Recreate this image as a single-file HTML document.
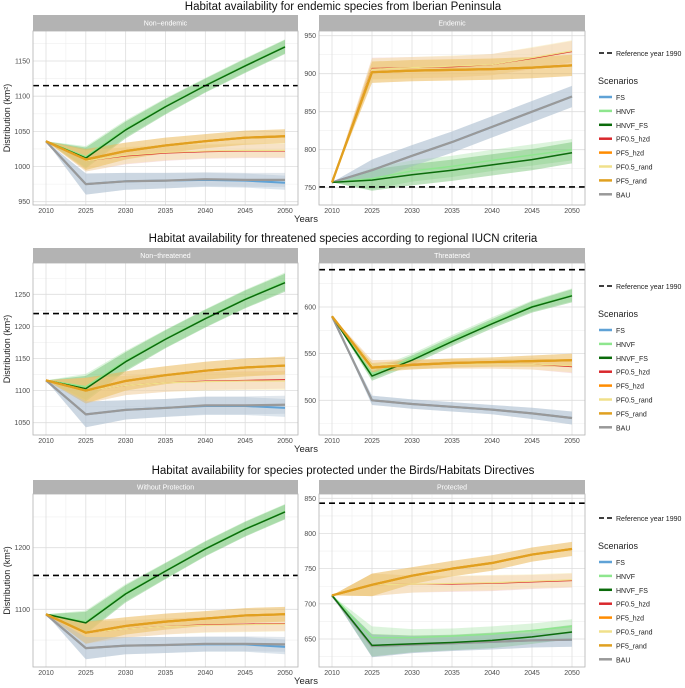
<!DOCTYPE html>
<html><head><meta charset="utf-8">
<style>
html,body{margin:0;padding:0;background:#fff;}
svg{display:block;font-family:"Liberation Sans",sans-serif;}
</style></head>
<body>
<svg id="chart" width="685" height="688" viewBox="0 0 685 688" xmlns="http://www.w3.org/2000/svg"></svg>
<script>
const categories = ["2010","2025","2030","2035","2040","2045","2050"];
const seriesNames = ["FS","HNVF","HNVF_FS","PF0.5_hzd","PF5_hzd","PF0.5_rand","PF5_rand","BAU"];
const rowTitles = ["Habitat availability for endemic species from Iberian Peninsula","Habitat availability for threatened species according to regional IUCN criteria","Habitat availability for species protected under the Birds/Habitats Directives"];
const panelLabels = ["Non\u2212endemic","Endemic","Non\u2212threatened","Threatened","Without Protection","Protected"];
const refValues = [1115, 751, 1220, 640, 1155, 843];
const p1Ticks = [950,1000,1050,1100,1150];
const p2Ticks = [750,800,850,900,950];
const p3Ticks = [1050,1100,1150,1200,1250];
const p4Ticks = [500,550,600];
const p5Ticks = [1100,1200];
const p6Ticks = [650,700,750,800,850];
// panel 1 Non-endemic
const p1FS=[1036,975,979,980,981,980,977], p1HNVF=[1036,1014,1054,1086,1116,1144,1171], p1HNVFFS=[1036,1012,1052,1085,1115,1143,1170], p1PF05h=[1036,1008,1015,1019,1021,1022,1022], p1PF5h=[1036,1010,1022,1030,1036,1041,1043], p1PF05r=[1036,1008,1016,1020,1022,1023,1023], p1PF5r=[1036,1010,1022,1030,1036,1041,1043], p1BAU=[1036,975,979,980,982,981,981];
const p1Err=[0,15,12,11,10,10,10];
// panel 2 Endemic
const p2FS=[757,773,792,810,830,850,870], p2HNVF=[757,762,772,778,786,793,800], p2HNVFFS=[757,760,767,773,780,787,796], p2PF05h=[757,907,908,909,912,920,929], p2PF5h=[757,902,904,905,906,908,911], p2PF05r=[757,906,908,910,912,921,930], p2PF5r=[757,902,904,905,906,908,911], p2BAU=[757,773,792,810,830,850,870];
const p2Err=[0,14,14,14,14,14,14];
// panel 3 Non-threatened
const p3FS=[1116,1063,1070,1073,1076,1076,1073], p3HNVF=[1116,1106,1147,1181,1213,1243,1270], p3HNVFFS=[1116,1103,1145,1180,1212,1242,1268], p3PF05h=[1116,1100,1108,1112,1115,1116,1117], p3PF5h=[1116,1100,1115,1124,1131,1136,1139], p3PF05r=[1116,1100,1108,1112,1114,1115,1115], p3PF5r=[1116,1100,1115,1124,1131,1136,1139], p3BAU=[1116,1063,1070,1073,1077,1077,1078];
const p3Err=[0,20,15,14,14,14,14];
// panel 4 Threatened
const p4FS=[590,500,496,493,490,486,481], p4HNVF=[590,528,545,565,584,601,613], p4HNVFFS=[590,526,543,563,582,600,612], p4PF05h=[590,538,539,539,539,539,536], p4PF5h=[590,535,538,540,541,542,543], p4PF05r=[590,538,539,539,539,539,537], p4PF5r=[590,535,538,540,541,542,543], p4BAU=[590,500,496,493,490,486,481];
const p4Err=[0,5,5,5,5,6,7];
// panel 5 Without Protection
const p5FS=[1092,1037,1041,1042,1043,1043,1039], p5HNVF=[1092,1080,1127,1163,1199,1231,1259], p5HNVFFS=[1092,1078,1125,1162,1198,1230,1258], p5PF05h=[1092,1062,1068,1072,1075,1076,1077], p5PF5h=[1092,1062,1073,1080,1085,1090,1092], p5PF05r=[1092,1062,1068,1072,1074,1075,1076], p5PF5r=[1092,1062,1073,1080,1085,1090,1092], p5BAU=[1092,1037,1041,1042,1044,1044,1043];
const p5Err=[0,18,14,13,12,12,12];
// panel 6 Protected
const p6FS=[712,640,642,644,646,648,649], p6HNVF=[712,652,652,654,657,662,668], p6HNVFFS=[712,641,643,645,648,653,660], p6PF05h=[712,727,728,728,729,731,733], p6PF5h=[712,727,740,750,758,770,778], p6PF05r=[712,727,728,729,730,732,734], p6PF5r=[712,727,740,750,758,770,778], p6BAU=[712,640,642,644,646,648,649];
const p6Err=[0,16,12,11,11,10,10];

const panelData = [
 [p1FS,p1HNVF,p1HNVFFS,p1PF05h,p1PF5h,p1PF05r,p1PF5r,p1BAU,p1Err,p1Ticks],
 [p2FS,p2HNVF,p2HNVFFS,p2PF05h,p2PF5h,p2PF05r,p2PF5r,p2BAU,p2Err,p2Ticks],
 [p3FS,p3HNVF,p3HNVFFS,p3PF05h,p3PF5h,p3PF05r,p3PF5r,p3BAU,p3Err,p3Ticks],
 [p4FS,p4HNVF,p4HNVFFS,p4PF05h,p4PF5h,p4PF05r,p4PF5r,p4BAU,p4Err,p4Ticks],
 [p5FS,p5HNVF,p5HNVFFS,p5PF05h,p5PF5h,p5PF05r,p5PF5r,p5BAU,p5Err,p5Ticks],
 [p6FS,p6HNVF,p6HNVFFS,p6PF05h,p6PF5h,p6PF05r,p6PF5r,p6BAU,p6Err,p6Ticks]
];
// layout (pixels)
const colors = ["#5fa2d6","#8ee68e","#0b6b0b","#d9282c","#ff8c00","#f0e08a","#e0a020","#999999"];
const bandColors = ["#a7bdd2","#9be09b","#5fb85f","#e8a0a0","#f2b860","#f5e6a0","#e8b850","#b5c3d2"];
const bandAlpha = [0.4,0.35,0.4,0.3,0.3,0.4,0.35,0.4];
const lineW = [2,1.5,1.5,1,2.2,1.2,2.2,2.2];
const layout = [
 {x0:33,x1:298,top:31,bot:205,st:15,v0:1150,p0:61,v1:950,p1:201.7},
 {x0:319,x1:585,top:31,bot:205,st:15,v0:950,p0:35.7,v1:750,p1:187.7},
 {x0:33,x1:298,top:263,bot:435,st:248,v0:1250,p0:294.3,v1:1050,p1:422.7},
 {x0:319,x1:585,top:263,bot:435,st:248,v0:600,p0:307,v1:500,p1:400.3},
 {x0:33,x1:298,top:494,bot:667,st:480,v0:1200,p0:547.7,v1:1100,p1:609.3},
 {x0:319,x1:585,top:494,bot:667,st:480,v0:850,p0:498.3,v1:650,p1:639}
];
const svg = document.getElementById('chart');
const NS = "http://www.w3.org/2000/svg";
function mk(tag, attrs, parent){const e=document.createElementNS(NS,tag);for(const k in attrs)e.setAttribute(k,attrs[k]);(parent||svg).appendChild(e);return e;}

const rowTitleY=[10,242,474];
rowTitles.forEach((t,i)=>{
  const e=mk('text',{x:343,y:rowTitleY[i],'text-anchor':'middle','font-size':'11.5',fill:'#111'});
  
  
  e.textContent=t;
  const yt=mk('text',{x:0,y:0,'text-anchor':'middle','font-size':'9',fill:'#222',transform:`translate(10,${(layout[i*2].top+layout[i*2].bot)/2}) rotate(-90)`});
  
  
  yt.innerHTML='Distribution (km²)';
  const xt=mk('text',{x:306,y:layout[i*2].bot+17,'text-anchor':'middle','font-size':'9.5',fill:'#222'});
  
  
  xt.textContent='Years';
  // legend
  const lg=mk('g',{});
  
  
  const ry=layout[i*2].st+38;
  mk('line',{x1:599,x2:612,y1:ry,y2:ry,stroke:'#000','stroke-width':1.6,'stroke-dasharray':'5,3'},lg);
  const rt=mk('text',{x:616,y:ry+3,'font-size':'7',fill:'#222'},lg);rt.textContent='Reference year 1990';
  const sh=mk('text',{x:598,y:ry+31,'font-size':'9',fill:'#222'},lg);sh.textContent='Scenarios';
  seriesNames.forEach((n,j)=>{
    const yy=ry+44+j*13.9;
    const le=mk('g',{},lg);
    
    
    mk('line',{x1:599,x2:612,y1:yy,y2:yy,stroke:colors[j],'stroke-width':2.5},le);
    const tt=mk('text',{x:616,y:yy+3,'font-size':'7',fill:'#222'},le);tt.textContent=n;
  });
});

layout.forEach((L,pi)=>{
  const d=panelData[pi];
  const ticks=d[9], err=d[8];
  const g=mk('g',{});
  
  
  const sc=(L.p1-L.p0)/(L.v1-L.v0);
  const y=v=>L.p0+(v-L.v0)*sc;
  const step=(L.x1-L.x0-26)/(categories.length-1);
  const x=i=>L.x0+13+i*step;
  mk('rect',{x:L.x0,y:L.top,width:L.x1-L.x0,height:L.bot-L.top,fill:'#fff'},g);
  // grid
  const tstep=ticks.length>1?ticks[1]-ticks[0]:100;
  const vtop=L.v0+(L.top-L.p0)/sc, vbot=L.v0+(L.bot-L.p0)/sc;
  for(let v=ticks[0]-tstep*3; v<=ticks[ticks.length-1]+tstep*3; v+=tstep/2){
    const yy=y(v); if(yy<L.top||yy>L.bot) continue;
    const major=ticks.includes(v);
    mk('line',{x1:L.x0,x2:L.x1,y1:yy,y2:yy,stroke:major?'#dedede':'#efefef','stroke-width':major?0.8:0.6},g);
  }
  for(let i=0;i<categories.length;i++){
    mk('line',{x1:x(i),x2:x(i),y1:L.top,y2:L.bot,stroke:'#dedede','stroke-width':0.8},g);
    if(i<categories.length-1) mk('line',{x1:x(i+0.5),x2:x(i+0.5),y1:L.top,y2:L.bot,stroke:'#efefef','stroke-width':0.6},g);
    const tl=mk('text',{x:x(i),y:L.bot+8,'text-anchor':'middle','font-size':'7',fill:'#4d4d4d'},g);
    
    
    tl.textContent=categories[i];
  }
  ticks.forEach(v=>{
    const tl=mk('text',{x:L.x0-3,y:y(v)+2.5,'text-anchor':'end','font-size':'7',fill:'#4d4d4d'},g);
    
    
    tl.textContent=v;
  });
  // ribbons
  for(let s=0;s<8;s++){
    const vals=d[s];
    let pts=vals.map((v,i)=>x(i)+','+y(v+err[i]));
    pts=pts.concat(vals.map((v,i)=>x(i)+','+y(v-err[i])).reverse());
    const r=mk('polygon',{points:pts.join(' '),fill:bandColors[s],'fill-opacity':bandAlpha[s],stroke:'none'},g);
    
    
  }
  // lines
  const order=[0,7,1,3,5,2,4,6];
  order.forEach(s=>{
    const vals=d[s];
    const p=mk('polyline',{points:vals.map((v,i)=>x(i)+','+y(v)).join(' '),fill:'none',stroke:colors[s],'stroke-width':lineW[s],'stroke-linejoin':'round'},g);
    
    
  });
  // reference line
  const ref=mk('line',{x1:L.x0,x2:L.x1,y1:y(refValues[pi]),y2:y(refValues[pi]),stroke:'#000','stroke-width':1.6,'stroke-dasharray':'6,4'},g);
  
  
  mk('rect',{x:L.x0,y:L.top,width:L.x1-L.x0,height:L.bot-L.top,fill:'none',stroke:'#b3b3b3','stroke-width':0.8},g);
  // strip
  const st=mk('rect',{x:L.x0,y:L.st,width:L.x1-L.x0,height:L.top-L.st,fill:'#b3b3b3'},g);
  
  
  const stt=mk('text',{x:(L.x0+L.x1)/2,y:(L.st+L.top)/2+2.5,'text-anchor':'middle','font-size':'7',fill:'#fff'},g);
  
  
  stt.textContent=panelLabels[pi];
});
</script>
</body></html>
